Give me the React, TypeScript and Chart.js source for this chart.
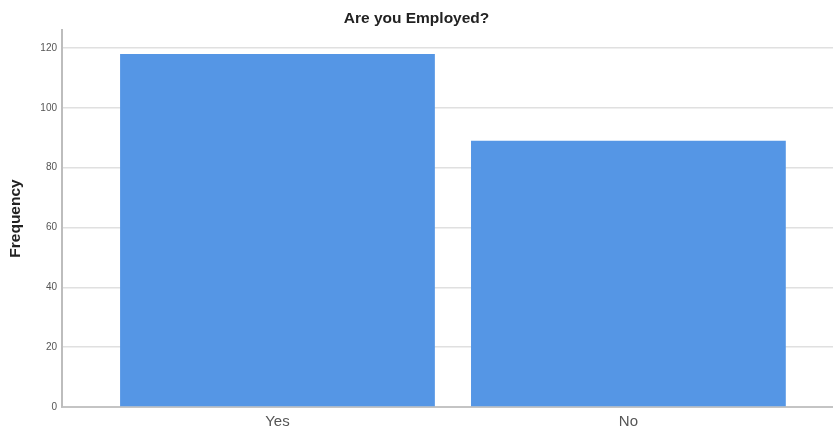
import React, { useEffect, useRef } from "react";
import { Chart, registerables } from "chart.js";

Chart.register(...registerables);

const categories: string[] = ["Yes", "No"];
const frequencies: number[] = [118, 89];
const yTickValues: number[] = [0, 20, 40, 60, 80, 100, 120];
const chartTitle = "Are you Employed?";
const yAxisTitle = "Frequency";

export default function App() {
  const canvasRef = useRef<HTMLCanvasElement | null>(null);

  useEffect(() => {
    const canvas = canvasRef.current;
    if (!canvas) return;
    const chart = new Chart(canvas, {
      type: "bar",
      data: {
        datasets: [
          {
            label: yAxisTitle,
            data: frequencies.map((v, i) => ({ x: i, y: v })),
            backgroundColor: "rgb(85,150,229)",
            borderWidth: 0,
            categoryPercentage: 1,
            barPercentage: 0.897,
          },
        ],
      },
      options: {
        animation: false,
        responsive: true,
        maintainAspectRatio: false,
        layout: { padding: 0 },
        plugins: {
          legend: { display: false },
          tooltip: { enabled: false },
          title: {
            display: true,
            text: chartTitle,
            color: "#222",
            font: { family: "'Liberation Sans', Arial, sans-serif", size: 15.5, weight: "bold", lineHeight: 1.2 },
            padding: { top: 9, bottom: 2.4 },
          },
        },
        scales: {
          x: {
            type: "linear",
            offset: false,
            min: -0.614,
            max: 1.583,
            grid: { display: false, drawTicks: false, offset: false },
            border: { display: true, color: "#c4c4c4", width: 2 },
            afterBuildTicks: (scale: any) => {
              scale.ticks = categories.map((_, i) => ({ value: i }));
            },
            afterFit: (scale: any) => {
              scale.height = 25;
            },
            ticks: {
              color: "#555",
              padding: 6,
              font: { family: "'Liberation Sans', Arial, sans-serif", size: 15 },
              callback: (value: any) => categories[Math.round(Number(value))] ?? "",
            },
          },
          y: {
            type: "linear",
            min: 0,
            max: 126,
            grid: { color: "#e0e0e0", lineWidth: 1.5, drawTicks: false },
            border: { display: true, color: "#bdbdbd", width: 2 },
            afterBuildTicks: (scale: any) => {
              scale.ticks = yTickValues.map((v) => ({ value: v }));
            },
            afterFit: (scale: any) => {
              scale.width = 62;
            },
            ticks: {
              color: "#555",
              padding: 5,
              font: { family: "'Liberation Sans', Arial, sans-serif", size: 10 },
            },
            title: {
              display: true,
              text: yAxisTitle,
              color: "#222",
              font: { family: "'Liberation Sans', Arial, sans-serif", size: 15.5, weight: "bold", lineHeight: 1.2 },
              padding: { top: 6, bottom: 0 },
            },
          },
        },
      },
    } as any);
    return () => chart.destroy();
  }, []);

  return (
    <div style={{ position: "fixed", left: 0, top: 0, width: 833, height: 432, background: "#fff" }}>
      <canvas ref={canvasRef} />
    </div>
  );
}
